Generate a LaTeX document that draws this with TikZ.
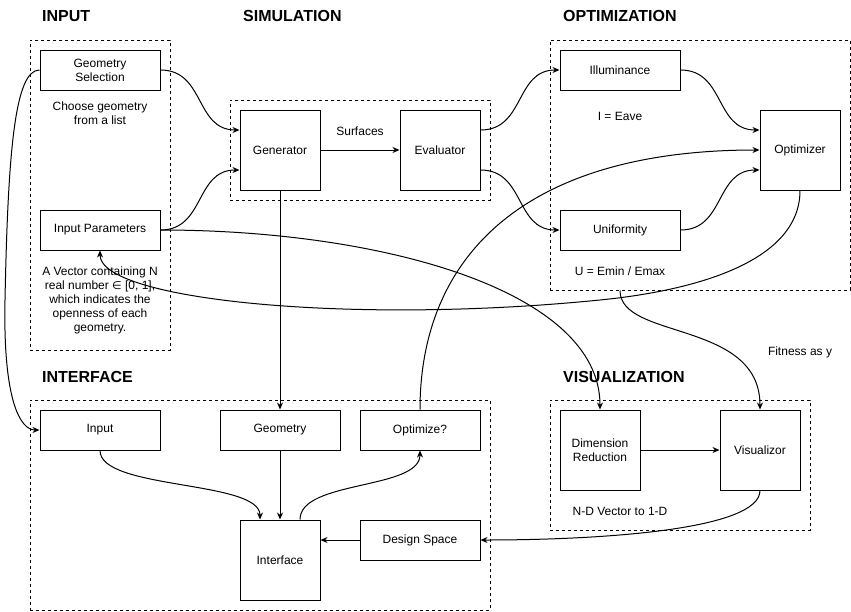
\documentclass[tikz,border=0pt]{standalone}
\usepackage{fontspec}
\setmainfont{Liberation Sans}
\newfontfamily\symfont{DejaVu Sans}
\usepackage{tikz}
\usetikzlibrary{arrows.meta}

\tikzset{
  box/.style={draw, fill=white, line width=1pt, minimum width=120pt, minimum height=40pt,
    inner sep=0pt, align=center, font=\fontsize{12}{14}\selectfont},
  bigbox/.style={box, minimum width=80pt, minimum height=80pt},
  group/.style={draw, line width=1pt, dash pattern=on 3pt off 3pt, inner sep=0pt},
  title/.style={anchor=west, inner sep=0pt, font=\fontsize{16}{19}\bfseries\selectfont},
  note/.style={align=center, inner sep=0pt, font=\fontsize{12}{14}\selectfont},
  conn/.style={line width=1pt, -{Stealth[length=7pt,width=6pt]}},
}

\begin{document}
\begin{tikzpicture}[x=1pt, y=-1pt]
        \useasboundingbox (0,0) rectangle (851,611);

        % Groups
        \node[group, minimum width=140pt, minimum height=310pt] (inpgrp) at (100,195) {};
        \node[group, minimum width=260pt, minimum height=100pt] (simgrp) at (360,150) {};
        \node[group, minimum width=300pt, minimum height=250pt] (optgrp) at (700,165) {};
        \node[group, minimum width=460pt, minimum height=210pt] (ifgrp) at (260,505) {};
        \node[group, minimum width=260pt, minimum height=130pt] (visgrp) at (680,465) {};

        % Titles
        \node[title] (tinp) at (42,16) {INPUT};
        \node[title] (tsim) at (243,16) {SIMULATION};
        \node[title] (topt) at (563,16) {OPTIMIZATION};
        \node[title] (tif) at (42,377) {INTERFACE};
        \node[title] (tvis) at (563,377) {VISUALIZATION};

        % Input
        \node[box] (gsel) at (100,70) {Geometry\\Selection};
        \node[box] (ipar) at (100,230) {Input Parameters};
        \node[note] (nsel) at (100,113) {Choose geometry\\from a list};
        \node[note] (npar) at (100,300) {A Vector containing N\\real number {\symfont\fontsize{11}{14}\selectfont ∈} [0, 1],\\which indicates the\\openness of each\\geometry.};

        % Simulation
        \node[bigbox] (gen) at (280,150) {Generator};
        \node[bigbox] (eval) at (440,150) {Evaluator};
        \node[note] (nsurf) at (360,131) {Surfaces};

        % Optimization
        \node[box] (illum) at (620,70) {Illuminance};
        \node[box] (unif) at (620,230) {Uniformity};
        \node[bigbox] (optim) at (800,150) {Optimizer};
        \node[note] (nillum) at (620,116) {I = Eave};
        \node[note] (nunif) at (620,271) {U = Emin / Emax};

        % Interface
        \node[box] (inp) at (100,430) {Input};
        \node[box] (geom) at (280,430) {Geometry};
        \node[box] (optq) at (420,430) {Optimize?};
        \node[bigbox] (iface) at (280,560) {Interface};
        \node[box] (dspace) at (420,540) {Design Space};

        % Visualization
        \node[bigbox] (dimred) at (600,450) {Dimension\\Reduction};
        \node[bigbox] (viz) at (760,450) {Visualizor};
        \node[note] (ndim) at (620,511) {N-D Vector to 1-D};
        \node[note] (nfit) at (800,352) {Fitness as y};

        % Edges
        \draw[conn] (gsel.east) .. controls (205,70) and (195,130) .. ([yshift=20pt]gen.west);
        \draw[conn] (ipar.east) .. controls (205,230) and (195,170) .. ([yshift=-20pt]gen.west);
        \draw[conn] (gen.east) -- (eval.west);
        \draw[conn] ([yshift=20pt]eval.east) .. controls (525,130) and (515,70) .. (illum.west);
        \draw[conn] ([yshift=-20pt]eval.east) .. controls (525,170) and (515,230) .. (unif.west);
        \draw[conn] (illum.east) .. controls (725,70) and (715,130) .. ([yshift=20pt]optim.west);
        \draw[conn] (unif.east) .. controls (725,230) and (715,170) .. ([yshift=-20pt]optim.west);
        \draw[conn] (optq.north) .. controls (420,260) and (520,150) .. (optim.west);
        \draw[conn] (optim.south) .. controls (800,260) and (700,290) .. (600,300)
                    .. controls (350,325) and (100,300) .. (ipar.south);
        \draw[conn] (ipar.east) .. controls (380,230) and (600,290) .. (dimred.north);
        \draw[conn] ([xshift=-80pt]optgrp.south) .. controls (620,340) and (760,320) .. (viz.north);
        \draw[conn] (gen.south) -- (geom.north);
        \draw[conn] (gsel.west) .. controls (15,70) and (8,150) .. (5,300)
                    .. controls (3,400) and (20,430) .. (inp.west);
        \draw[conn] (inp.south) .. controls (100,490) and (260,480) .. ([xshift=-20pt]iface.north);
        \draw[conn] (geom.south) -- (iface.north);
        \draw[conn] ([xshift=20pt]iface.north) .. controls (300,480) and (420,490) .. (optq.south);
        \draw[conn] (dspace.west) -- (dspace.west -| iface.east);
        \draw[conn] (viz.south) .. controls (760,530) and (600,540) .. (dspace.east);
        \draw[conn] (dimred.east) -- (viz.west);
\end{tikzpicture}
\end{document}
